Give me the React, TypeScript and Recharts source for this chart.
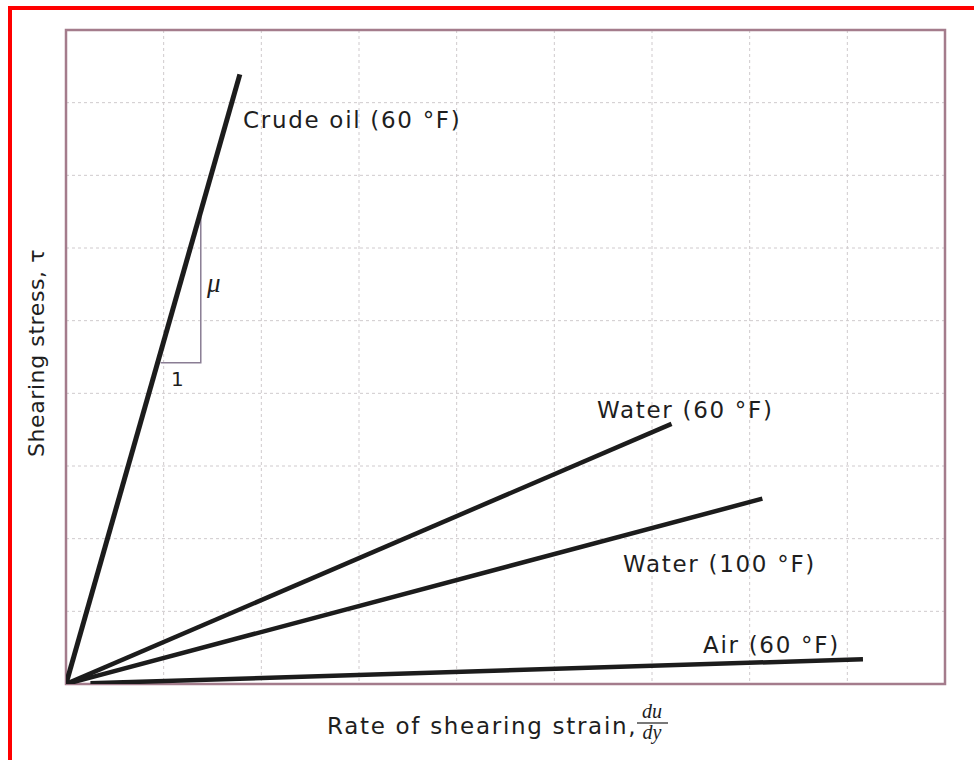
import React from 'react';
import { LineChart, Line, XAxis, YAxis, CartesianGrid, ReferenceArea } from 'recharts';

const gridTicks = [0, 1, 2, 3, 4, 5, 6, 7, 8, 9];

const crudeOil = [
  { x: 0, y: 0 },
  { x: 1.78, y: 8.39 },
];
const water60 = [
  { x: 0, y: 0 },
  { x: 6.2, y: 3.58 },
];
const water100 = [
  { x: 0, y: 0 },
  { x: 7.13, y: 2.55 },
];
const air60 = [
  { x: 0.25, y: 0.01 },
  { x: 8.16, y: 0.34 },
];
const slopeTriangle = [
  { x: 0.97, y: 4.42 },
  { x: 1.38, y: 4.42 },
  { x: 1.38, y: 6.45 },
];

const seriesLabels = ['Crude oil (60 °F)', 'Water (60 °F)', 'Water (100 °F)', 'Air (60 °F)'];

const W = 974;
const H = 760;

const labelStyle: React.CSSProperties = {
  fontFamily: '"DejaVu Sans", sans-serif',
  fontSize: 23,
  letterSpacing: 1.7,
  fill: '#1e1e1e',
};

const serifItalic: React.CSSProperties = {
  fontFamily: '"Liberation Serif", serif',
  fontStyle: 'italic',
  fontSize: 20,
  fill: '#1e1e1e',
};

export default function App() {
  return (
    <div style={{ position: 'absolute', left: 0, top: 0, width: W, height: H, overflow: 'hidden', background: '#fff' }}>
      <div
        style={{
          position: 'absolute',
          left: 8,
          top: 6,
          width: W,
          height: H,
          borderTop: '4px solid #ff0000',
          borderLeft: '4px solid #ff0000',
          boxSizing: 'border-box',
        }}
      />
      <div style={{ position: 'absolute', left: 0, top: 0 }}>
        <LineChart width={W} height={H} margin={{ top: 30, left: 66, right: 29, bottom: 76 }}>
          <XAxis type="number" dataKey="x" domain={[0, 9]} ticks={gridTicks} hide allowDataOverflow />
          <YAxis type="number" dataKey="y" domain={[0, 9]} ticks={gridTicks} hide allowDataOverflow />
          <CartesianGrid stroke="#cfcacd" strokeDasharray="3 3" strokeWidth={1} />
          <ReferenceArea x1={0} x2={9} y1={0} y2={9} fill="none" fillOpacity={0} stroke="#a47c8c" strokeWidth={2.5} />
          <Line data={slopeTriangle} dataKey="y" stroke="#8a7d94" strokeWidth={1.5} dot={false} isAnimationActive={false} />
          <Line data={crudeOil} dataKey="y" stroke="#1c1c1c" strokeWidth={5} dot={false} isAnimationActive={false} />
          <Line data={water60} dataKey="y" stroke="#1c1c1c" strokeWidth={4.5} dot={false} isAnimationActive={false} />
          <Line data={water100} dataKey="y" stroke="#1c1c1c" strokeWidth={4.5} dot={false} isAnimationActive={false} />
          <Line data={air60} dataKey="y" stroke="#1c1c1c" strokeWidth={4.5} dot={false} isAnimationActive={false} />
        </LineChart>
      </div>
      <svg width={W} height={H} style={{ position: 'absolute', left: 0, top: 0, pointerEvents: 'none' }}>
        <text x={243} y={128} style={labelStyle}>{seriesLabels[0]}</text>
        <text x={597} y={418} style={labelStyle}>{seriesLabels[1]}</text>
        <text x={623} y={572} style={labelStyle}>{seriesLabels[2]}</text>
        <text x={703} y={653} style={labelStyle}>{seriesLabels[3]}</text>
        <text x={207} y={292} style={{ ...serifItalic, fontSize: 27 }}>μ</text>
        <text x={171} y={386} style={{ fontFamily: '"DejaVu Sans", sans-serif', fontSize: 20, fill: '#1e1e1e' }}>1</text>
        <text x={327} y={734} style={labelStyle}>Rate of shearing strain,</text>
        <text x={652} y={718} textAnchor="middle" style={serifItalic}>du</text>
        <line x1={637} x2={668} y1={723} y2={723} stroke="#1e1e1e" strokeWidth={1.2} />
        <text x={652} y={739} textAnchor="middle" style={serifItalic}>dy</text>
        <text
          x={44}
          y={353}
          textAnchor="middle"
          transform="rotate(-90 44 353)"
          style={{ ...labelStyle, fontSize: 22, letterSpacing: 0.6 }}
        >
          Shearing stress, τ
        </text>
      </svg>
    </div>
  );
}
